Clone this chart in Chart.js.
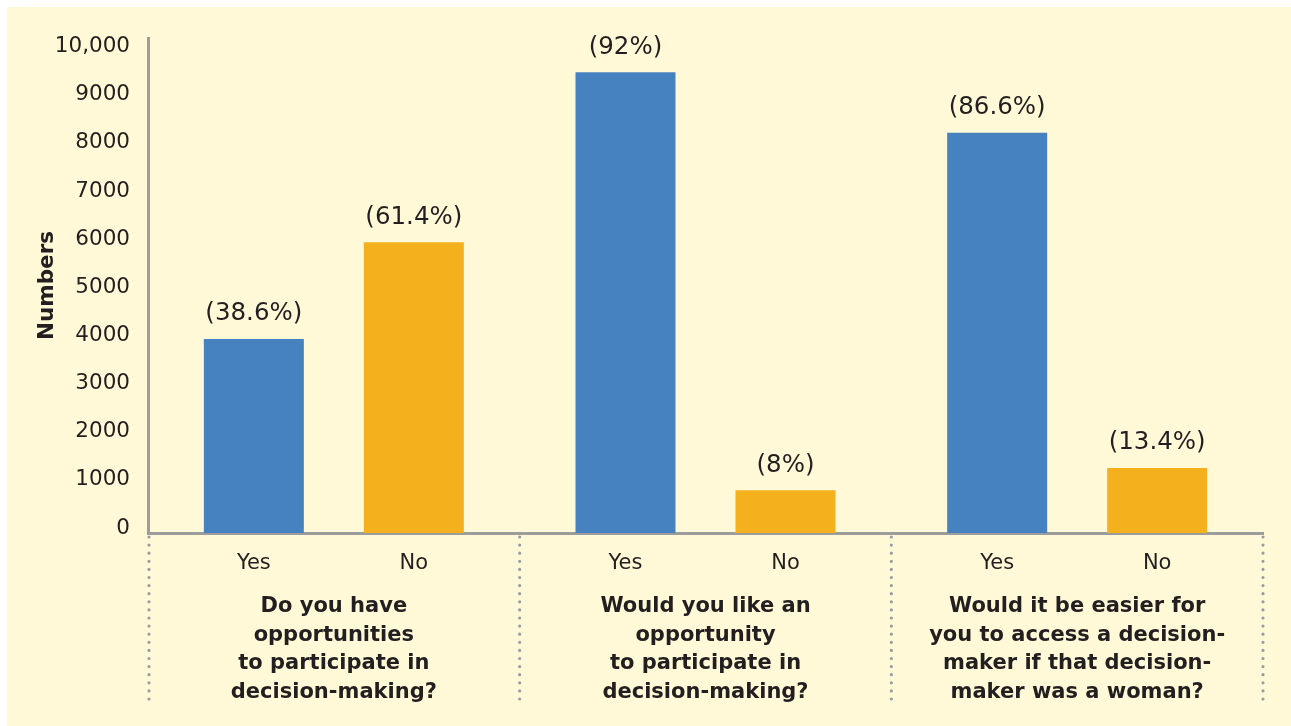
<!DOCTYPE html>
<html>
<head>
<meta charset="utf-8">
<script src="https://cdn.jsdelivr.net/npm/chart.js@4.4.1/dist/chart.umd.min.js"></script>
<style>
  html, body { margin: 0; padding: 0; background: #ffffff; }
  #wrap { position: absolute; left: 0; top: 0; width: 1291px; height: 726px; }
</style>
</head>
<body>
<div id="wrap"><canvas id="chart" width="1291" height="726"></canvas></div>
<script>
// Survey questions (x-axis groups), one entry per line of the label
const questions = [
  ['Do you have', 'opportunities', 'to participate in', 'decision-making?'],
  ['Would you like an', 'opportunity', 'to participate in', 'decision-making?'],
  ['Would it be easier for', 'you to access a decision-', 'maker if that decision-', 'maker was a woman?']
];
const answerLabels = ['Yes', 'No'];

// Number of respondents per answer
const yesCounts = [4030, 9570, 8310];
const noCounts = [6040, 890, 1350];

// Share of respondents per answer (%)
const yesPercent = [38.6, 92, 86.6];
const noPercent = [61.4, 8, 13.4];

// Y-axis tick values and their printed labels
const yTickValues = [0, 1000, 2000, 3000, 4000, 5000, 6000, 7000, 8000, 9000, 10000];
const yTickLabels = ['0', '1000', '2000', '3000', '4000', '5000', '6000', '7000', '8000', '9000', '10,000'];

const FONT = "'DejaVu Sans', 'Open Sans', sans-serif";
const TEXT = '#231f20';
const AXIS = '#9c9c9c';
const DOTS = '#9a9ca4';

const percentSets = [yesPercent, noPercent];

// Cream panel behind the chart
const panelPlugin = {
  id: 'panel',
  beforeDraw(chart) {
    const ctx = chart.ctx;
    ctx.save();
    ctx.fillStyle = '#fff9d7';
    ctx.fillRect(7, 7, chart.width - 7, chart.height - 7);
    ctx.restore();
  }
};

// Dotted dividers between question groups, below the axis
const dividerPlugin = {
  id: 'dividers',
  afterDraw(chart) {
    const x = chart.scales.x;
    const area = chart.chartArea;
    const n = x.ticks.length;
    const xs = [area.left + 1];
    for (let i = 0; i < n - 1; i++) {
      xs.push((x.getPixelForTick(i) + x.getPixelForTick(i + 1)) / 2);
    }
    xs.push(area.right);
    const ctx = chart.ctx;
    ctx.save();
    ctx.strokeStyle = DOTS;
    ctx.lineWidth = 3.2;
    ctx.lineCap = 'round';
    ctx.setLineDash([0, 8.1]);
    xs.forEach(px => {
      ctx.beginPath();
      ctx.moveTo(px, area.bottom + 4);
      ctx.lineTo(px, area.bottom + 168);
      ctx.stroke();
    });
    ctx.restore();
  }
};

// Yes / No under each bar, percentages above each bar
const barTextPlugin = {
  id: 'barText',
  afterDatasetsDraw(chart) {
    const ctx = chart.ctx;
    const area = chart.chartArea;
    ctx.save();
    ctx.fillStyle = TEXT;
    ctx.textAlign = 'center';
    ctx.textBaseline = 'middle';
    chart.data.datasets.forEach((ds, d) => {
      const meta = chart.getDatasetMeta(d);
      meta.data.forEach((bar, i) => {
        ctx.font = `21px ${FONT}`;
        ctx.fillText(answerLabels[d], bar.x, area.bottom + 31);
        ctx.font = `24.5px ${FONT}`;
        ctx.fillText(`(${percentSets[d][i]}%)`, bar.x, bar.y - 25);
      });
    });
    ctx.restore();
  }
};

new Chart(document.getElementById('chart'), {
  type: 'bar',
  data: {
    labels: questions,
    datasets: [
      { label: answerLabels[0], data: yesCounts, backgroundColor: '#4682c0',
        categoryPercentage: 0.861, barPercentage: 0.625 },
      { label: answerLabels[1], data: noCounts, backgroundColor: '#f5b01e',
        categoryPercentage: 0.861, barPercentage: 0.625 }
    ]
  },
  options: {
    responsive: false,
    animation: false,
    events: [],
    layout: { padding: { top: 38, right: 28, left: 0, bottom: 0 } },
    plugins: { legend: { display: false }, tooltip: { enabled: false } },
    scales: {
      x: {
        type: 'category',
        offset: true,
        grid: { display: false, drawTicks: false },
        border: { display: true, color: AXIS, width: 3 },
        ticks: {
          autoSkip: false,
          maxRotation: 0,
          padding: 59,
          color: TEXT,
          font: { family: FONT, size: 21, weight: 'bold', lineHeight: 1.367 }
        },
        afterFit(scale) { scale.height = 193; }
      },
      y: {
        min: 0,
        max: 10280,
        grid: { display: false, drawTicks: false },
        border: { display: true, color: AXIS, width: 3 },
        afterBuildTicks(scale) {
          scale.ticks = yTickValues.map(v => ({ value: v }));
        },
        ticks: {
          labelOffset: -5,
          padding: 18,
          color: TEXT,
          font: { family: FONT, size: 21.5 },
          callback: v => yTickLabels[yTickValues.indexOf(v)]
        },
        title: {
          display: true,
          text: 'Numbers',
          color: TEXT,
          font: { family: FONT, size: 21.5, weight: 'bold' },
          padding: { top: 35, bottom: 0 }
        },
        afterFit(scale) { scale.width = 148; }
      }
    }
  },
  plugins: [panelPlugin, dividerPlugin, barTextPlugin]
});
</script>
</body>
</html>
